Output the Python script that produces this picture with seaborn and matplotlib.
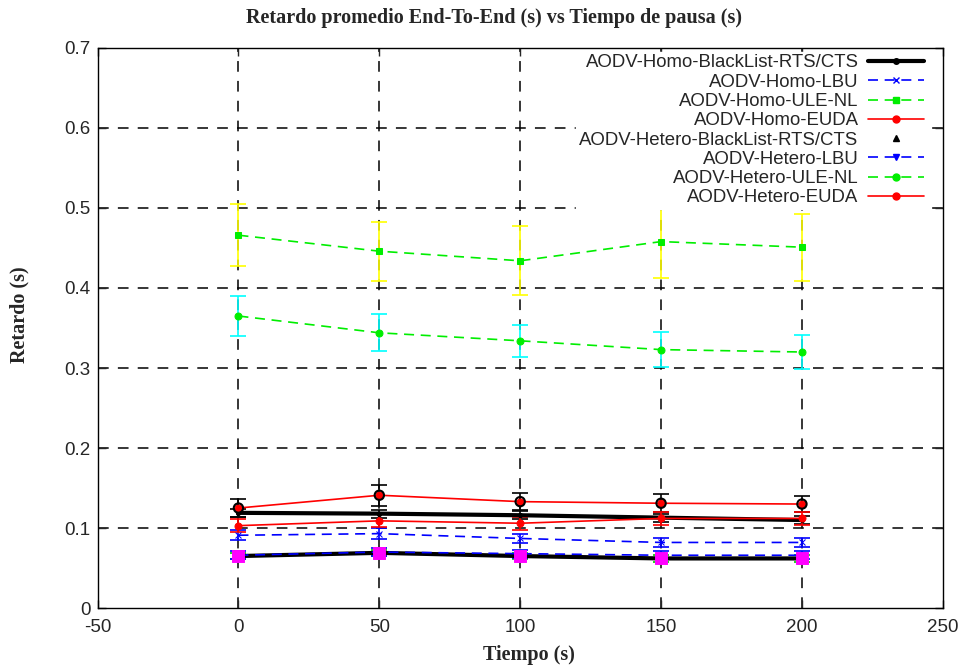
import numpy as np
import pandas as pd
import matplotlib
matplotlib.use("Agg")
import matplotlib.pyplot as plt
import seaborn as sns
from matplotlib.lines import Line2D
from matplotlib.ticker import FuncFormatter

# === Data ===
pausa = [0, 50, 100, 150, 200]

homo_bl = [0.119, 0.118, 0.116, 0.113, 0.110]
homo_bl_err = [0.005, 0.005, 0.005, 0.005, 0.005]
homo_lbu = [0.091, 0.093, 0.087, 0.082, 0.082]
homo_lbu_err = [0.006, 0.007, 0.006, 0.006, 0.006]
homo_ule = [0.466, 0.446, 0.434, 0.458, 0.451]
homo_ule_err = [0.039, 0.037, 0.043, 0.045, 0.042]
homo_euda = [0.125, 0.141, 0.133, 0.131, 0.130]
homo_euda_err = [0.011, 0.013, 0.011, 0.011, 0.010]

het_bl = [0.065, 0.069, 0.065, 0.062, 0.062]
het_bl_err = [0.004, 0.004, 0.004, 0.004, 0.004]
het_lbu = [0.066, 0.070, 0.068, 0.066, 0.066]
het_lbu_err = [0.005, 0.005, 0.005, 0.005, 0.005]
het_ule = [0.365, 0.344, 0.334, 0.323, 0.320]
het_ule_err = [0.025, 0.023, 0.020, 0.022, 0.021]
het_euda = [0.103, 0.109, 0.106, 0.112, 0.112]
het_euda_err = [0.008, 0.008, 0.008, 0.008, 0.008]

x_ticks = [-50, 0, 50, 100, 150, 200, 250]
y_ticks = [0, 0.1, 0.2, 0.3, 0.4, 0.5, 0.6, 0.7]

GREEN, BLUE, RED = "#00ee00", "#0000ff", "#ff0000"
DASH = (0, (6, 4))

# name, values, err, line color, linestyle, lw, marker, marker size, errbar color
series = [
    ("AODV-Homo-BlackList-RTS/CTS", homo_bl, homo_bl_err, "black", "-", 3.0, ".", 6, "black"),
    ("AODV-Homo-LBU", homo_lbu, homo_lbu_err, BLUE, DASH, 1.2, "x", 5, BLUE),
    ("AODV-Homo-ULE-NL", homo_ule, homo_ule_err, GREEN, DASH, 1.2, "s", 5, "#ffff00"),
    ("AODV-Homo-EUDA", homo_euda, homo_euda_err, RED, "-", 1.2, "o", 5, "black"),
    ("AODV-Hetero-BlackList-RTS/CTS", het_bl, het_bl_err, "black", "-", 3.0, "^", 4, "#00cc00"),
    ("AODV-Hetero-LBU", het_lbu, het_lbu_err, BLUE, DASH, 1.2, "v", 5, BLUE),
    ("AODV-Hetero-ULE-NL", het_ule, het_ule_err, GREEN, DASH, 1.2, "o", 5, "#00ffff"),
    ("AODV-Hetero-EUDA", het_euda, het_euda_err, RED, "-", 1.2, "o", 5, RED),
]

sns.set_style("ticks")
plt.rcParams["font.family"] = ["Liberation Sans", "DejaVu Sans"]
plt.rcParams["axes.unicode_minus"] = False

fig = plt.figure(figsize=(9.66, 6.66), dpi=100)
ax = fig.add_axes([0.101, 0.087, 0.875, 0.841])

# gnuplot-like dashed grid
for xv in x_ticks[1:-1]:
    ax.axvline(xv, color="black", lw=1.1, ls=(0, (7, 6)), zorder=0)
for yv in y_ticks[1:-1]:
    ax.axhline(yv, color="black", lw=1.1, ls=(0, (7, 6)), zorder=0)

handles = []
for name, vals, err, col, ls, lw, mk, ms, ecol in series:
    df = pd.DataFrame({"pausa": pausa, "retardo": vals})
    ax.errorbar(pausa, vals, yerr=err, fmt="none", ecolor=ecol, elinewidth=1.2,
                capsize=6, capthick=1.2, zorder=3)
    sns.lineplot(data=df, x="pausa", y="retardo", ax=ax, color=col, linestyle=ls,
                 linewidth=lw, marker=mk, markersize=ms, markerfacecolor=col,
                 markeredgecolor=col, zorder=4, legend=False)
    if name == "AODV-Hetero-BlackList-RTS/CTS":
        handles.append(Line2D([], [], color="black", marker="^", markersize=4, linestyle="none"))
    else:
        handles.append(Line2D([], [], color=col, linestyle=ls, linewidth=lw,
                              marker=mk, markersize=ms if mk != "." else 8))

# black rims on the Homo-EUDA points and magenta squares on the lowest series
sns.scatterplot(x=pausa, y=homo_euda, ax=ax, s=45, facecolor="none",
                edgecolor="black", linewidth=1.5, zorder=5, legend=False)
sns.scatterplot(x=pausa, y=het_bl, ax=ax, s=70, marker="s", color="#ff00ff",
                edgecolor="#ff00ff", zorder=6, legend=False)

ax.set_xlim(-50, 250)
ax.set_ylim(0, 0.7)
ax.set_xticks(x_ticks)
ax.set_yticks(y_ticks)
ax.yaxis.set_major_formatter(FuncFormatter(lambda v, p: "0" if v == 0 else f"{v:.1f}"))
ax.tick_params(direction="in", length=6, width=1, labelsize=13.5, top=True, right=True)
ax.tick_params(axis="x", pad=8)
ax.tick_params(axis="y", pad=5)
for sp in ax.spines.values():
    sp.set_color("black")
    sp.set_linewidth(1)

serif = ["Liberation Serif", "DejaVu Serif"]
fig.text(0.511, 0.973, "Retardo promedio End-To-End (s) vs Tiempo de pausa (s)",
         family=serif, fontweight="bold", fontsize=14.5, ha="center", va="center")
ax.set_xlabel("Tiempo (s)", family=serif, fontweight="bold", fontsize=14.5)
ax.set_ylabel("Retardo (s)", family=serif, fontweight="bold", fontsize=14.5)
ax.xaxis.set_label_coords(0.51, -0.066)
ax.yaxis.set_label_coords(-0.08, 0.523)

leg = ax.legend(handles, [s[0] for s in series], loc="upper right",
                bbox_to_anchor=(0.985, 1.0), markerfirst=False, fontsize=13.4,
                labelspacing=0.12, handlelength=3.0, handletextpad=0.5,
                borderpad=0.15, borderaxespad=0.2, frameon=True, fancybox=False)
leg.get_frame().set_facecolor("white")
leg.get_frame().set_edgecolor("white")
leg.get_frame().set_alpha(1)
leg.set_zorder(10)

fig.savefig("out.png", dpi=100)
